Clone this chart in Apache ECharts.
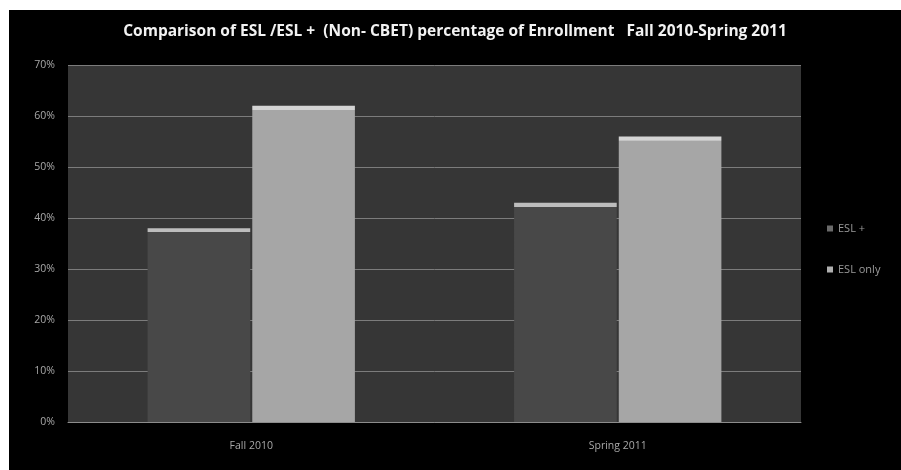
<!DOCTYPE html>
<html>
<head>
<meta charset="utf-8">
<script src="https://cdn.jsdelivr.net/npm/echarts@6/dist/echarts.min.js"></script>
<style>
  html, body { margin: 0; padding: 0; background: #ffffff; width: 901px; height: 470px; overflow: hidden; }
  #chart { position: absolute; left: 9px; top: 10px; width: 892px; height: 460px; }
</style>
</head>
<body>
<div id="chart"></div>
<script>
// Terms and enrollment shares (percent)
const terms = ['Fall 2010', 'Spring 2011'];
const eslPlus = [38, 43];
const eslOnly = [62, 56];
const yTicks = [0, 10, 20, 30, 40, 50, 60, 70];

const Y_MAX = 70;
const PLOT_H = 357; // grid height in px, used only for the highlight strip on bar tops

// Bar fill with a thin bright strip along the top edge
function topLit(value, base, lit, stripPx) {
  const h = value / Y_MAX * PLOT_H;
  const f = Math.min(0.5, stripPx / h);
  return {
    type: 'linear', x: 0, y: 0, x2: 0, y2: 1,
    colorStops: [
      { offset: 0, color: lit },
      { offset: f, color: lit },
      { offset: f + 0.001, color: base },
      { offset: 1, color: base }
    ]
  };
}

const FONT = 'Open Sans';

const chart = echarts.init(document.getElementById('chart'));
chart.setOption({
  backgroundColor: '#000000',
  animation: false,
  title: {
    text: 'Comparison of ESL /ESL +  (Non- CBET) percentage of Enrollment   Fall 2010-Spring 2011',
    left: 'center',
    top: 9,
    textStyle: { color: '#f2f2f2', fontSize: 15.5, fontWeight: 'bold', fontFamily: FONT }
  },
  legend: {
    orient: 'vertical',
    left: 813,
    top: 208,
    itemGap: 30,
    itemWidth: 6,
    itemHeight: 6,
    icon: 'rect',
    textStyle: { color: '#9a9a9a', fontSize: 11, fontFamily: FONT },
    data: [
      { name: 'ESL +', itemStyle: { color: '#6a6a6a' } },
      { name: 'ESL only', itemStyle: { color: '#b0b0b0' } }
    ]
  },
  grid: {
    left: 59, right: 100, top: 55, bottom: 48,
    show: true, backgroundColor: '#363636', borderWidth: 0
  },
  xAxis: {
    type: 'category',
    data: terms,
    axisTick: { show: false },
    axisLine: { show: true, lineStyle: { color: '#8c8c8c', width: 1 } },
    axisLabel: { color: '#a8a8a8', fontSize: 10.5, fontFamily: FONT, margin: 19 }
  },
  yAxis: {
    type: 'value',
    min: yTicks[0],
    max: yTicks[yTicks.length - 1],
    interval: 10,
    axisLine: { show: false },
    axisTick: { show: false },
    splitLine: { lineStyle: { color: '#7c7c7c', width: 1 } },
    axisLabel: { color: '#a8a8a8', fontSize: 10.5, fontFamily: FONT, margin: 13, formatter: '{value}%' }
  },
  series: [
    {
      name: 'ESL +',
      type: 'bar',
      barWidth: '28%',
      barGap: '2%',
      data: eslPlus.map(v => ({ value: v, itemStyle: { color: topLit(v, '#484848', '#bdbdbd', 4) } }))
    },
    {
      name: 'ESL only',
      type: 'bar',
      barWidth: '28%',
      data: eslOnly.map(v => ({ value: v, itemStyle: { color: topLit(v, '#a6a6a6', '#d4d4d4', 4) } }))
    }
  ]
});
</script>
</body>
</html>
